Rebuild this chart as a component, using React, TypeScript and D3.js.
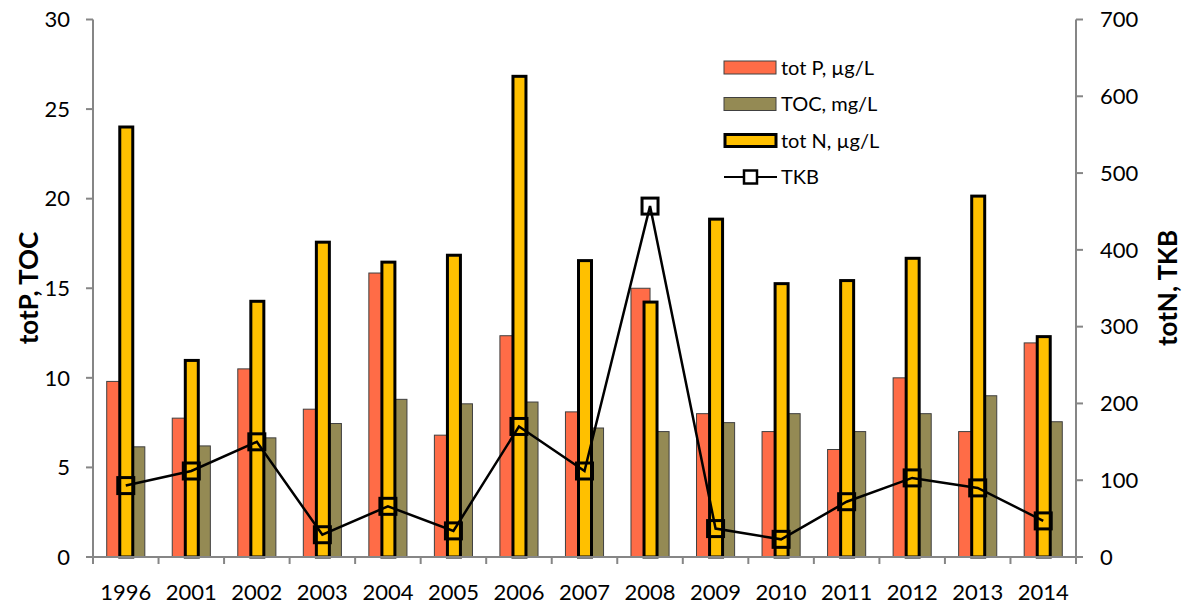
import React from "react";
import * as d3 from "d3";

// Yearly water-quality observations
const years = ["1996", "2001", "2002", "2003", "2004", "2005", "2006", "2007", "2008", "2009", "2010", "2011", "2012", "2013", "2014"];
const totP = [9.8, 7.75, 10.5, 8.25, 15.85, 6.8, 12.35, 8.1, 15.0, 8.0, 7.0, 6.0, 10.0, 7.0, 11.95];
const toc = [6.15, 6.2, 6.65, 7.45, 8.8, 8.55, 8.65, 7.2, 7.0, 7.5, 8.0, 7.0, 8.0, 9.0, 7.55];
const totN = [560, 256, 333, 410, 384, 393, 626, 386, 332, 440, 356, 360, 389, 470, 287];
const tkb = [93, 112, 150, 29, 66, 34, 170, 112, 457, 37, 23, 72, 103, 90, 47];

const leftTicks = [0, 5, 10, 15, 20, 25, 30];
const rightTicks = [0, 100, 200, 300, 400, 500, 600, 700];

const legendItems = [
  { key: "p", label: "tot P, µg/L" },
  { key: "toc", label: "TOC, mg/L" },
  { key: "n", label: "tot N, µg/L" },
  { key: "tkb", label: "TKB" },
];

const W = 1188;
const H = 605;
const FONT = "Lato, 'Open Sans', sans-serif";
const AXIS = "#868686";
const C_P = "#FF6C47";
const C_TOC = "#948A54";
const C_N = "#FFC000";

export default function App() {
  const plot = { left: 93, right: 1076, top: 19.5, bottom: 557 };

  const x = d3.scaleBand<string>().domain(years).range([plot.left, plot.right]).padding(0);
  const bw = x.bandwidth();
  const inner = d3
    .scaleBand<string>()
    .domain(["p", "toc"])
    .range([0, bw])
    .paddingInner(0)
    .paddingOuter(0.72);
  const nWidth = 13;

  const yL = d3.scaleLinear().domain([0, 30]).range([plot.bottom, plot.top]);
  const yR = d3.scaleLinear().domain([0, 700]).range([plot.bottom, plot.top]);

  const line = d3
    .line<number>()
    .x((_, i) => (x(years[i]) as number) + bw / 2)
    .y((d) => yR(d));

  const mk = 16;

  return (
    <svg
      width={W}
      height={H}
      style={{ position: "absolute", left: 0, top: 0, background: "#fff" }}
      fontFamily={FONT}
    >
      {/* primary-axis bars: tot P and TOC */}
      {years.map((yr, i) => {
        const x0 = x(yr) as number;
        return (
          <g key={"pb" + yr}>
            <rect
              x={x0 + (inner("p") as number)}
              y={yL(totP[i])}
              width={inner.bandwidth()}
              height={plot.bottom - yL(totP[i])}
              fill={C_P}
              stroke="#404040"
              strokeWidth={1}
            />
            <rect
              x={x0 + (inner("toc") as number)}
              y={yL(toc[i])}
              width={inner.bandwidth()}
              height={plot.bottom - yL(toc[i])}
              fill={C_TOC}
              stroke="#404040"
              strokeWidth={1}
            />
          </g>
        );
      })}

      {/* secondary-axis bars: tot N */}
      {years.map((yr, i) => {
        const cx = (x(yr) as number) + bw / 2 + 0.5;
        return (
          <rect
            key={"nb" + yr}
            x={cx - nWidth / 2}
            y={yR(totN[i])}
            width={nWidth}
            height={plot.bottom - yR(totN[i])}
            fill={C_N}
            stroke="#000"
            strokeWidth={3}
          />
        );
      })}

      {/* TKB line with hollow square markers */}
      <path d={line(tkb) || ""} fill="none" stroke="#000" strokeWidth={2.5} />
      {tkb.map((v, i) => {
        const cx = (x(years[i]) as number) + bw / 2;
        return (
          <rect
            key={"m" + i}
            x={cx - mk / 2}
            y={yR(v) - mk / 2}
            width={mk}
            height={mk}
            fill="none"
            stroke="#000"
            strokeWidth={3}
          />
        );
      })}

      {/* left axis */}
      <line x1={plot.left} x2={plot.left} y1={plot.top} y2={plot.bottom} stroke={AXIS} strokeWidth={2} />
      {leftTicks.map((t) => (
        <g key={"lt" + t}>
          <line x1={plot.left - 7} x2={plot.left} y1={yL(t)} y2={yL(t)} stroke={AXIS} strokeWidth={2} />
          <text x={70} y={yL(t)} dy="0.35em" textAnchor="end" fontSize={22} fill="#000">
            {t}
          </text>
        </g>
      ))}

      {/* right axis */}
      <line x1={plot.right} x2={plot.right} y1={plot.top} y2={plot.bottom + 7} stroke={AXIS} strokeWidth={2} />
      {rightTicks.map((t) => (
        <g key={"rt" + t}>
          <line x1={plot.right} x2={plot.right + 7} y1={yR(t)} y2={yR(t)} stroke={AXIS} strokeWidth={2} />
          <text x={1100} y={yR(t)} dy="0.35em" textAnchor="start" fontSize={22} fill="#000">
            {t}
          </text>
        </g>
      ))}

      {/* category axis */}
      <line x1={plot.left} x2={plot.right} y1={plot.bottom} y2={plot.bottom} stroke={AXIS} strokeWidth={2} />
      {years.map((yr) => (
        <line
          key={"xt" + yr}
          x1={x(yr) as number}
          x2={x(yr) as number}
          y1={plot.bottom}
          y2={plot.bottom + 7}
          stroke={AXIS}
          strokeWidth={2}
        />
      ))}
      {years.map((yr) => (
        <text
          key={"xl" + yr}
          x={(x(yr) as number) + bw / 2}
          y={600}
          textAnchor="middle"
          fontSize={22}
          fill="#000"
        >
          {yr}
        </text>
      ))}

      {/* axis titles */}
      <text
        transform="translate(38,288) rotate(-90)"
        textAnchor="middle"
        fontSize={26}
        fontWeight="bold"
        fill="#000"
      >
        totP, TOC
      </text>
      <text
        transform="translate(1177,288) rotate(-90)"
        textAnchor="middle"
        fontSize={26}
        fontWeight="bold"
        fill="#000"
      >
        totN, TKB
      </text>

      {/* legend */}
      {legendItems.map((it, i) => {
        const cy = 67.5 + i * 36.5;
        const sx = 724;
        let swatch: React.ReactNode;
        if (it.key === "p") {
          swatch = <rect x={sx} y={cy - 6.5} width={52} height={13} fill={C_P} stroke="#404040" strokeWidth={1} />;
        } else if (it.key === "toc") {
          swatch = <rect x={sx} y={cy - 6.5} width={52} height={13} fill={C_TOC} stroke="#404040" strokeWidth={1} />;
        } else if (it.key === "n") {
          swatch = <rect x={sx + 1} y={cy - 6} width={51} height={12} fill={C_N} stroke="#000" strokeWidth={3} />;
        } else {
          swatch = (
            <g>
              <line x1={sx} x2={sx + 53} y1={cy} y2={cy} stroke="#000" strokeWidth={2} />
              <rect x={sx + 20} y={cy - 6.5} width={13} height={13} fill="#fff" stroke="#000" strokeWidth={2.5} />
            </g>
          );
        }
        return (
          <g key={"lg" + it.key}>
            {swatch}
            <text x={781} y={cy} dy="0.35em" fontSize={20} fill="#000">
              {it.label}
            </text>
          </g>
        );
      })}
    </svg>
  );
}
